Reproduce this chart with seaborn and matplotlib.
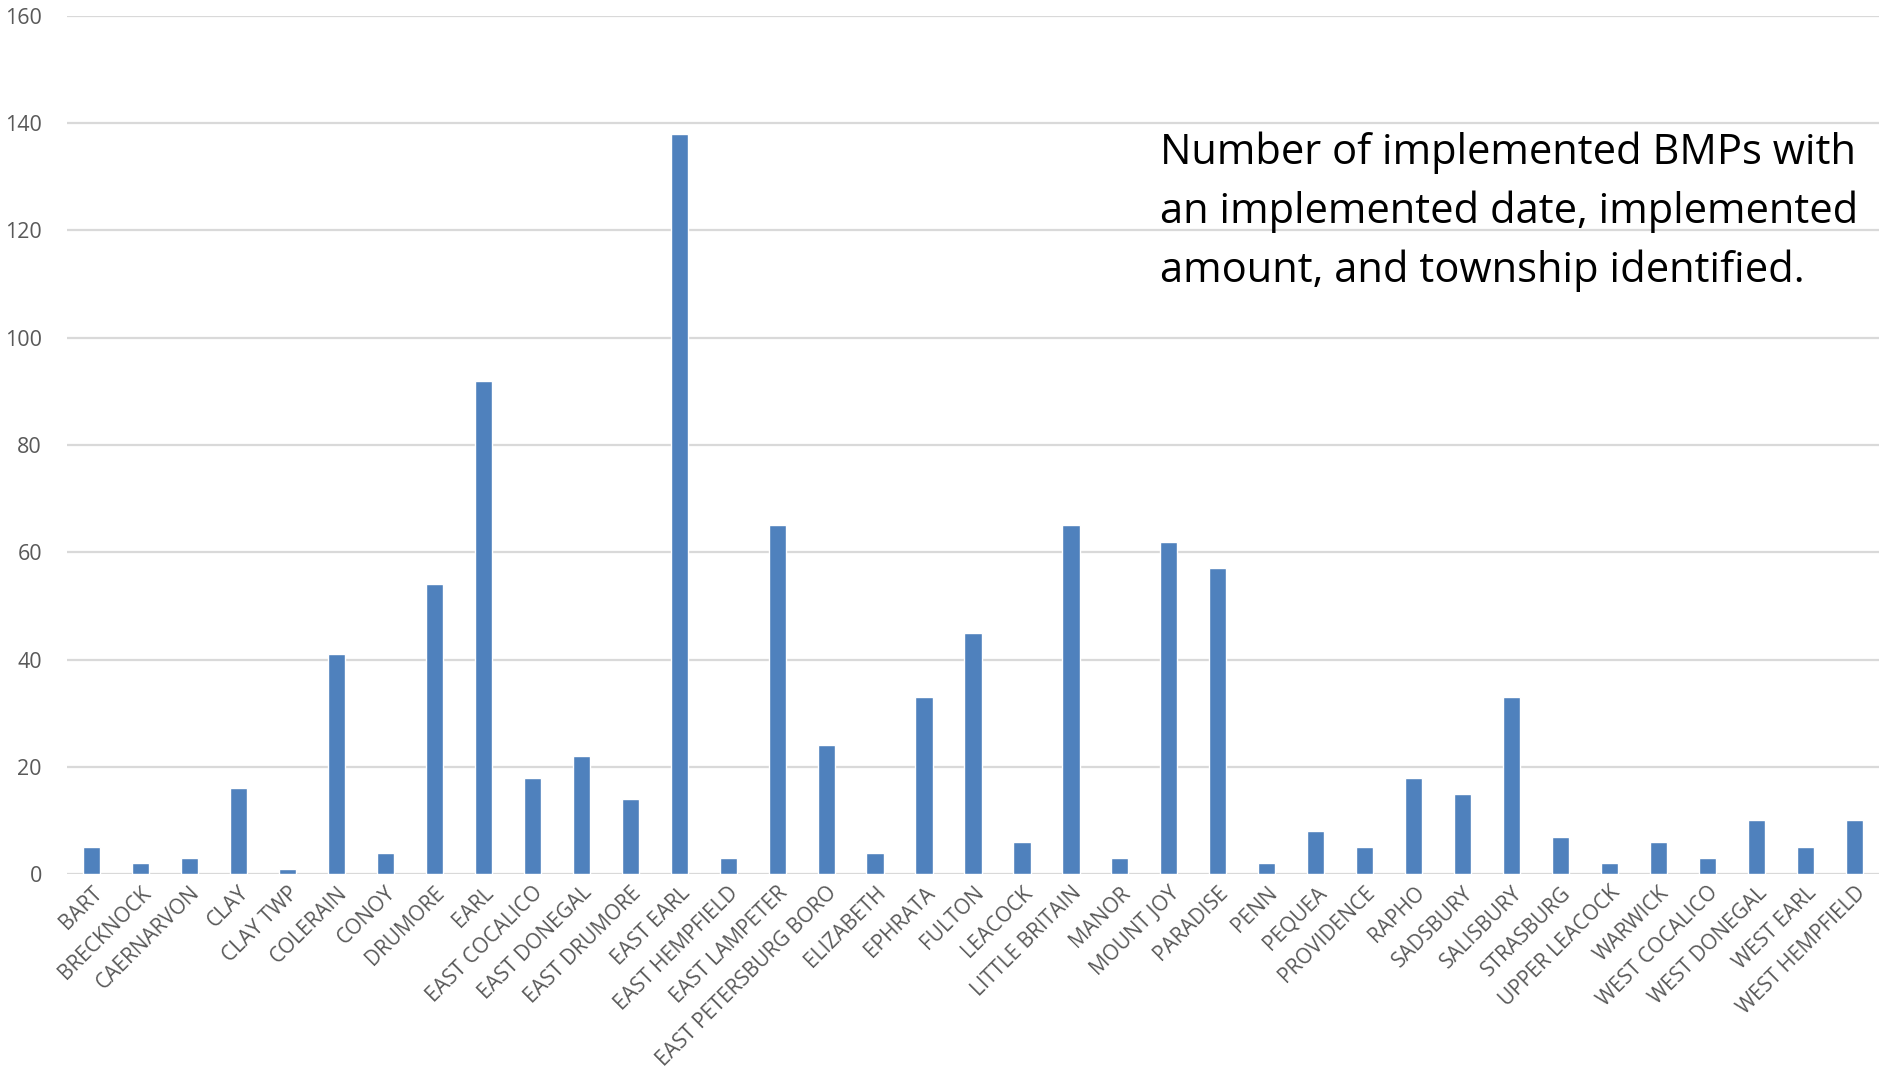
import pandas as pd
import matplotlib
matplotlib.use("Agg")
import matplotlib.pyplot as plt
import seaborn as sns

# Townships and BMP counts
townships = [
    "BART", "BRECKNOCK", "CAERNARVON", "CLAY", "CLAY TWP", "COLERAIN", "CONOY",
    "DRUMORE", "EARL", "EAST COCALICO", "EAST DONEGAL", "EAST DRUMORE",
    "EAST EARL", "EAST HEMPFIELD", "EAST LAMPETER", "EAST PETERSBURG BORO",
    "ELIZABETH", "EPHRATA", "FULTON", "LEACOCK", "LITTLE BRITAIN", "MANOR",
    "MOUNT JOY", "PARADISE", "PENN", "PEQUEA", "PROVIDENCE", "RAPHO",
    "SADSBURY", "SALISBURY", "STRASBURG", "UPPER LEACOCK", "WARWICK",
    "WEST COCALICO", "WEST DONEGAL", "WEST EARL", "WEST HEMPFIELD",
]
counts = [
    5, 2, 3, 16, 1, 41, 4,
    54, 92, 18, 22, 14,
    138, 3, 65, 24,
    4, 33, 45, 6, 65, 3,
    62, 57, 2, 8, 5, 18,
    15, 33, 7, 2, 6,
    3, 10, 5, 10,
]
y_ticks = [0, 20, 40, 60, 80, 100, 120, 140, 160]

title_text = ("Number of implemented BMPs with\n"
              "an implemented date, implemented\n"
              "amount, and township identified.")

df = pd.DataFrame({"Township": townships, "Count": counts})

sns.set_style("white")
plt.rcParams["font.family"] = ["Open Sans", "DejaVu Sans"]

fig = plt.figure(figsize=(18.79, 10.78), dpi=100)
ax = fig.add_axes([67 / 1879, 0.1892, 1 - 67 / 1879, 0.7960])

sns.barplot(data=df, x="Township", y="Count", color="#4F81BD",
            saturation=1, width=0.35, ax=ax, zorder=3)

ax.set_xlim(-0.5, len(townships) - 0.5)
ax.set_ylim(0, 160)
ax.set_yticks(y_ticks)
ax.yaxis.grid(True, color="#D9D9D9", linewidth=1.6, zorder=0)
ax.set_axisbelow(True)
for s in ax.spines.values():
    s.set_visible(False)
ax.set_xlabel("")
ax.set_ylabel("")

ax.tick_params(axis="both", length=0, labelcolor="#595959")
ax.tick_params(axis="y", pad=18, labelsize=15.5)
ax.tick_params(axis="x", pad=6, labelsize=15)
plt.setp(ax.get_xticklabels(), rotation=45, ha="right", rotation_mode="anchor")

fig.text(1160 / 1879, 1 - 132 / 1078, title_text, fontsize=30, color="black",
         ha="left", va="top", linespacing=1.5)

fig.savefig("out.png", dpi=100)
